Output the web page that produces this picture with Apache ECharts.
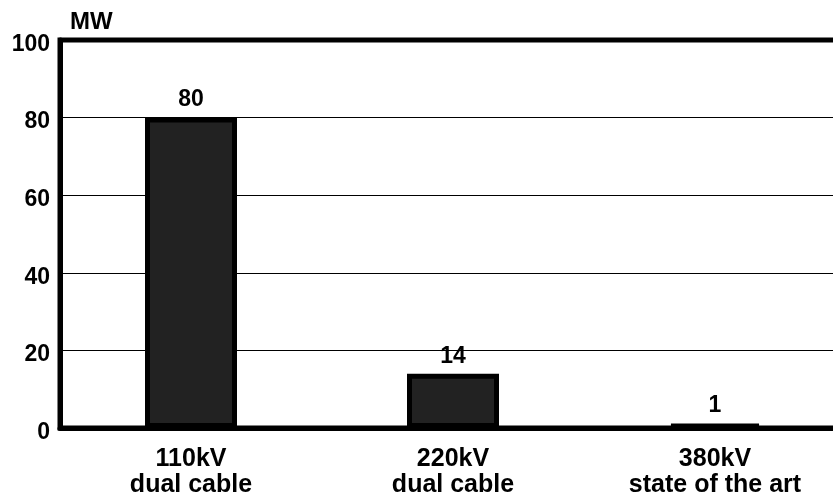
<!DOCTYPE html>
<html><head><meta charset="utf-8">
<script src="https://cdn.jsdelivr.net/npm/echarts@6/dist/echarts.min.js"></script>
<style>html,body{margin:0;padding:0;background:#fff}#c{width:833px;height:498px}</style>
</head><body><div id="c"></div>
<script>
var categories = ['110kV\ndual cable', '220kV\ndual cable', '380kV\nstate of the art'];
var values = [80, 14, 1];
var yTicks = [0, 20, 40, 60, 80, 100];
var unitLabel = 'MW';

var chart = echarts.init(document.getElementById('c'), null, {renderer: 'canvas'});
var F = '"Liberation Sans", Arial, sans-serif';
chart.setOption({
  animation: false,
  backgroundColor: '#fff',
  grid: {left: 60, top: 40, width: 786, height: 388, outerBoundsMode: 'none', containLabel: false,
         show: true, borderColor: '#000', borderWidth: 5, backgroundColor: 'transparent'},
  xAxis: {
    type: 'category', data: categories,
    axisLine: {lineStyle: {color: '#000', width: 5}},
    axisTick: {show: false},
    axisLabel: {color: '#000', fontFamily: F, fontWeight: 'bold', fontSize: 25, lineHeight: 26, margin: 18}
  },
  yAxis: {
    type: 'value', min: yTicks[0], max: yTicks[yTicks.length - 1], interval: yTicks[1] - yTicks[0],
    name: unitLabel, nameLocation: 'end', nameGap: 6,
    nameTextStyle: {color: '#000', fontFamily: F, fontWeight: 'bold', fontSize: 24, align: 'left', padding: [0, 0, 0, 10]},
    axisLine: {show: true, lineStyle: {color: '#000', width: 5}},
    axisTick: {show: false},
    axisLabel: {
      color: '#000', fontFamily: F, fontWeight: 'bold', fontSize: 23, margin: 10,
      formatter: '{v|{value}}',
      rich: {v: {color: '#000', fontFamily: F, fontWeight: 'bold', fontSize: 23, padding: [9, 0, 0, 0]}}
    },
    splitLine: {lineStyle: {color: '#000', width: 1}}
  },
  series: [{
    type: 'bar', data: values, barWidth: 92,
    itemStyle: {color: '#222', borderColor: '#000', borderWidth: 5},
    label: {show: true, position: 'top', distance: 6, color: '#000', fontFamily: F, fontWeight: 'bold', fontSize: 23}
  }]
});
</script></body></html>
